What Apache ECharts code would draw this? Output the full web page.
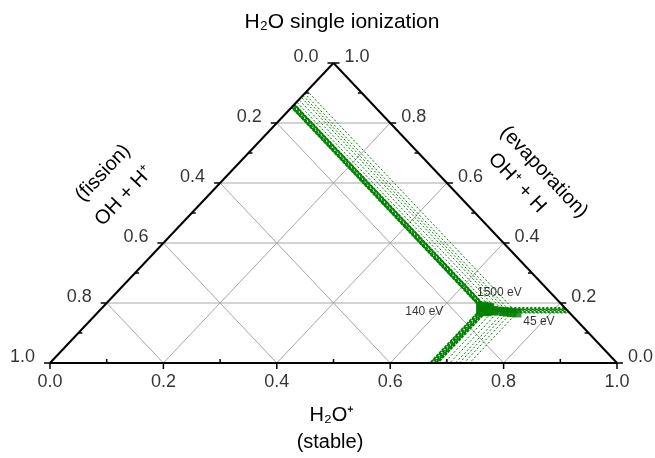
<!DOCTYPE html>
<html>
<head>
<meta charset="utf-8">
<script src="https://cdn.jsdelivr.net/npm/echarts@6/dist/echarts.min.js"></script>
<style>
  html, body { margin: 0; padding: 0; background: #fff; }
  #chart { width: 655px; height: 458px; }
</style>
</head>
<body>
<div id="chart"></div>
<script>
// ternary axes: bottom = H2O+ (stable), right = OH+ + H (evaporation), left = OH + H+ (fission)
const tickValues = [0, 0.2, 0.4, 0.6, 0.8, 1.0]
const tickLabels = ['0.0', '0.2', '0.4', '0.6', '0.8', '1.0']
const minorTickValues = [0.1, 0.3, 0.5, 0.7, 0.9]
const gridValues = [0.2, 0.4, 0.6, 0.8]

// measured fractions per photon energy (fission = 1 - stable - evaporation)
const energies = [45, 50, 60, 70, 85, 100, 140, 200, 300, 500, 700, 1000, 1500]
const stableFrac = [0.740, 0.730, 0.722, 0.715, 0.705, 0.695, 0.684, 0.682, 0.680, 0.678, 0.675, 0.672, 0.670]
const evapFrac = [0.167, 0.168, 0.170, 0.171, 0.173, 0.175, 0.178, 0.180, 0.176, 0.182, 0.178, 0.180, 0.185]
const labeledEnergies = [45, 140, 1500]

const FONT = 'Liberation Sans, Arial, sans-serif'
const GREEN = '#008000'

// ternary (stable, evaporation) -> cartesian
const tern = (s, e) => [s + e / 2, e]
const seg = (a, b) => [a[0], a[1], b[0], b[1]]

const gridSegs = []
gridValues.forEach(g => {
  gridSegs.push(seg(tern(0, g), tern(1 - g, g)))
  gridSegs.push(seg(tern(g, 0), tern(g, 1 - g)))
  gridSegs.push(seg(tern(1 - g, 0), tern(0, 1 - g)))
})

const borderSegs = [
  seg(tern(0, 0), tern(1, 0)),
  seg(tern(1, 0), tern(0, 1)),
  seg(tern(0, 1), tern(0, 0))
]

// tick items: x, y, dirX, dirY, length(px)
const tickItems = []
tickValues.forEach(v => {
  tickItems.push([...tern(v, 0), 0, 1, 6])
  tickItems.push([...tern(0, 1 - v), -1, 0, 6])
  tickItems.push([...tern(1 - v, v), 1, 0, 6])
})
minorTickValues.forEach(v => {
  tickItems.push([...tern(v, 0), 0, -1, 4])
  tickItems.push([...tern(0, 1 - v), 1, 0, 4])
  tickItems.push([...tern(1 - v, v), -1, 0, 4])
})

// drop lines from each point to the three axes; last value: 0 = left, 1 = bottom, 2 = right
const dropSegs = []
energies.forEach((en, i) => {
  const s = stableFrac[i], e = evapFrac[i], f = 1 - s - e
  const p = tern(s, e)
  dropSegs.push([...seg(p, tern(0, 1 - f)), en, 0])
  dropSegs.push([...seg(p, tern(s, 0)), en, 1])
  dropSegs.push([...seg(p, tern(1 - e, e)), en, 2])
})

const pointData = energies.map((en, i) => {
  const item = { value: [...tern(stableFrac[i], evapFrac[i]), en] }
  if (labeledEnergies.includes(en)) {
    const off = en === 1500 ? [17, -15] : en === 140 ? [-64, 2] : [22, 9]
    item.label = { show: true, position: 'inside', offset: off }
  }
  return item
})

const segRender = (styleFn) => (params, api) => {
  const p1 = api.coord([api.value(0), api.value(1)])
  const p2 = api.coord([api.value(2), api.value(3)])
  return {
    type: 'line',
    shape: { x1: p1[0], y1: p1[1], x2: p2[0], y2: p2[1] },
    style: styleFn(api)
  }
}

const chart = echarts.init(document.getElementById('chart'))

const option = {
  animation: false,
  backgroundColor: '#fff',
  grid: { left: 50, right: 38, top: 63, bottom: 95 },
  xAxis: { type: 'value', min: 0, max: 1, show: false },
  yAxis: { type: 'value', min: 0, max: 1, show: false },
  series: [
    {
      type: 'custom',
      silent: true,
      data: gridSegs,
      encode: { x: [0, 2], y: [1, 3] },
      renderItem: segRender(() => ({ stroke: '#a6a6a6', lineWidth: 1 }))
    },
    {
      type: 'custom',
      silent: true,
      data: dropSegs,
      encode: { x: [0, 2], y: [1, 3] },
      renderItem: segRender(api => (api.value(4) >= 140 && api.value(5) < 2)
        ? { stroke: GREEN, lineWidth: 1.6, lineDash: [3, 1] }
        : { stroke: GREEN, lineWidth: 1, lineDash: [2, 2] })
    },
    {
      type: 'scatter',
      silent: true,
      data: pointData,
      symbol: 'rect',
      symbolSize: (val) => val[2] >= 140 ? 12 : 9,
      itemStyle: { color: GREEN },
      label: {
        show: false,
        formatter: p => p.value[2] + ' eV',
        fontFamily: FONT,
        fontSize: 12,
        color: '#000'
      }
    },
    {
      type: 'custom',
      silent: true,
      data: borderSegs,
      encode: { x: [0, 2], y: [1, 3] },
      renderItem: segRender(() => ({ stroke: '#000', lineWidth: 2 }))
    },
    {
      type: 'custom',
      silent: true,
      data: tickItems,
      encode: { x: 0, y: 1 },
      renderItem: (params, api) => {
        const p = api.coord([api.value(0), api.value(1)])
        const len = api.value(4)
        return {
          type: 'line',
          shape: { x1: p[0], y1: p[1], x2: p[0] + api.value(2) * len, y2: p[1] + api.value(3) * len },
          style: { stroke: '#000', lineWidth: 1.5 }
        }
      }
    },
    {
      // bottom tick labels
      type: 'scatter',
      silent: true,
      symbolSize: 0,
      data: tickValues.map((v, i) => ({ value: tern(v, 0), name: tickLabels[i] })),
      label: { show: true, position: 'bottom', distance: 10, formatter: '{b}', fontFamily: FONT, fontSize: 18, color: '#000' }
    },
    {
      // left tick labels
      type: 'scatter',
      silent: true,
      symbolSize: 0,
      data: tickValues.map((v, i) => ({ value: tern(0, 1 - v), name: tickLabels[i] })),
      label: { show: true, position: 'left', distance: 15, offset: [0, -6], formatter: '{b}', fontFamily: FONT, fontSize: 18, color: '#000' }
    },
    {
      // right tick labels
      type: 'scatter',
      silent: true,
      symbolSize: 0,
      data: tickValues.map((v, i) => ({ value: tern(1 - v, v), name: tickLabels[i] })),
      label: { show: true, position: 'right', distance: 11, offset: [0, -6], formatter: '{b}', fontFamily: FONT, fontSize: 18, color: '#000' }
    }
  ],
  graphic: [
    { type: 'text', x: 342, y: 22, silent: true,
      style: { text: 'H\u2082O single ionization', font: '21px ' + FONT, fill: '#000', align: 'center', verticalAlign: 'middle' } },
    { type: 'text', x: 103, y: 173, rotation: 0.815, silent: true,
      style: { text: '(fission)', font: '20px ' + FONT, fill: '#000', align: 'center', verticalAlign: 'middle' } },
    { type: 'text', x: 124, y: 196, rotation: 0.815, silent: true,
      style: { text: 'OH + H\u207A', font: '20px ' + FONT, fill: '#000', align: 'center', verticalAlign: 'middle' } },
    { type: 'text', x: 544, y: 172, rotation: -0.815, silent: true,
      style: { text: '(evaporation)', font: '20px ' + FONT, fill: '#000', align: 'center', verticalAlign: 'middle' } },
    { type: 'text', x: 517, y: 183, rotation: -0.815, silent: true,
      style: { text: 'OH\u207A + H', font: '20px ' + FONT, fill: '#000', align: 'center', verticalAlign: 'middle' } },
    { type: 'text', x: 332, y: 415, silent: true,
      style: { text: 'H\u2082O\u207A', font: '20px ' + FONT, fill: '#000', align: 'center', verticalAlign: 'middle' } },
    { type: 'text', x: 330, y: 442, silent: true,
      style: { text: '(stable)', font: '20px ' + FONT, fill: '#000', align: 'center', verticalAlign: 'middle' } }
  ]
}

chart.setOption(option)
</script>
</body>
</html>
